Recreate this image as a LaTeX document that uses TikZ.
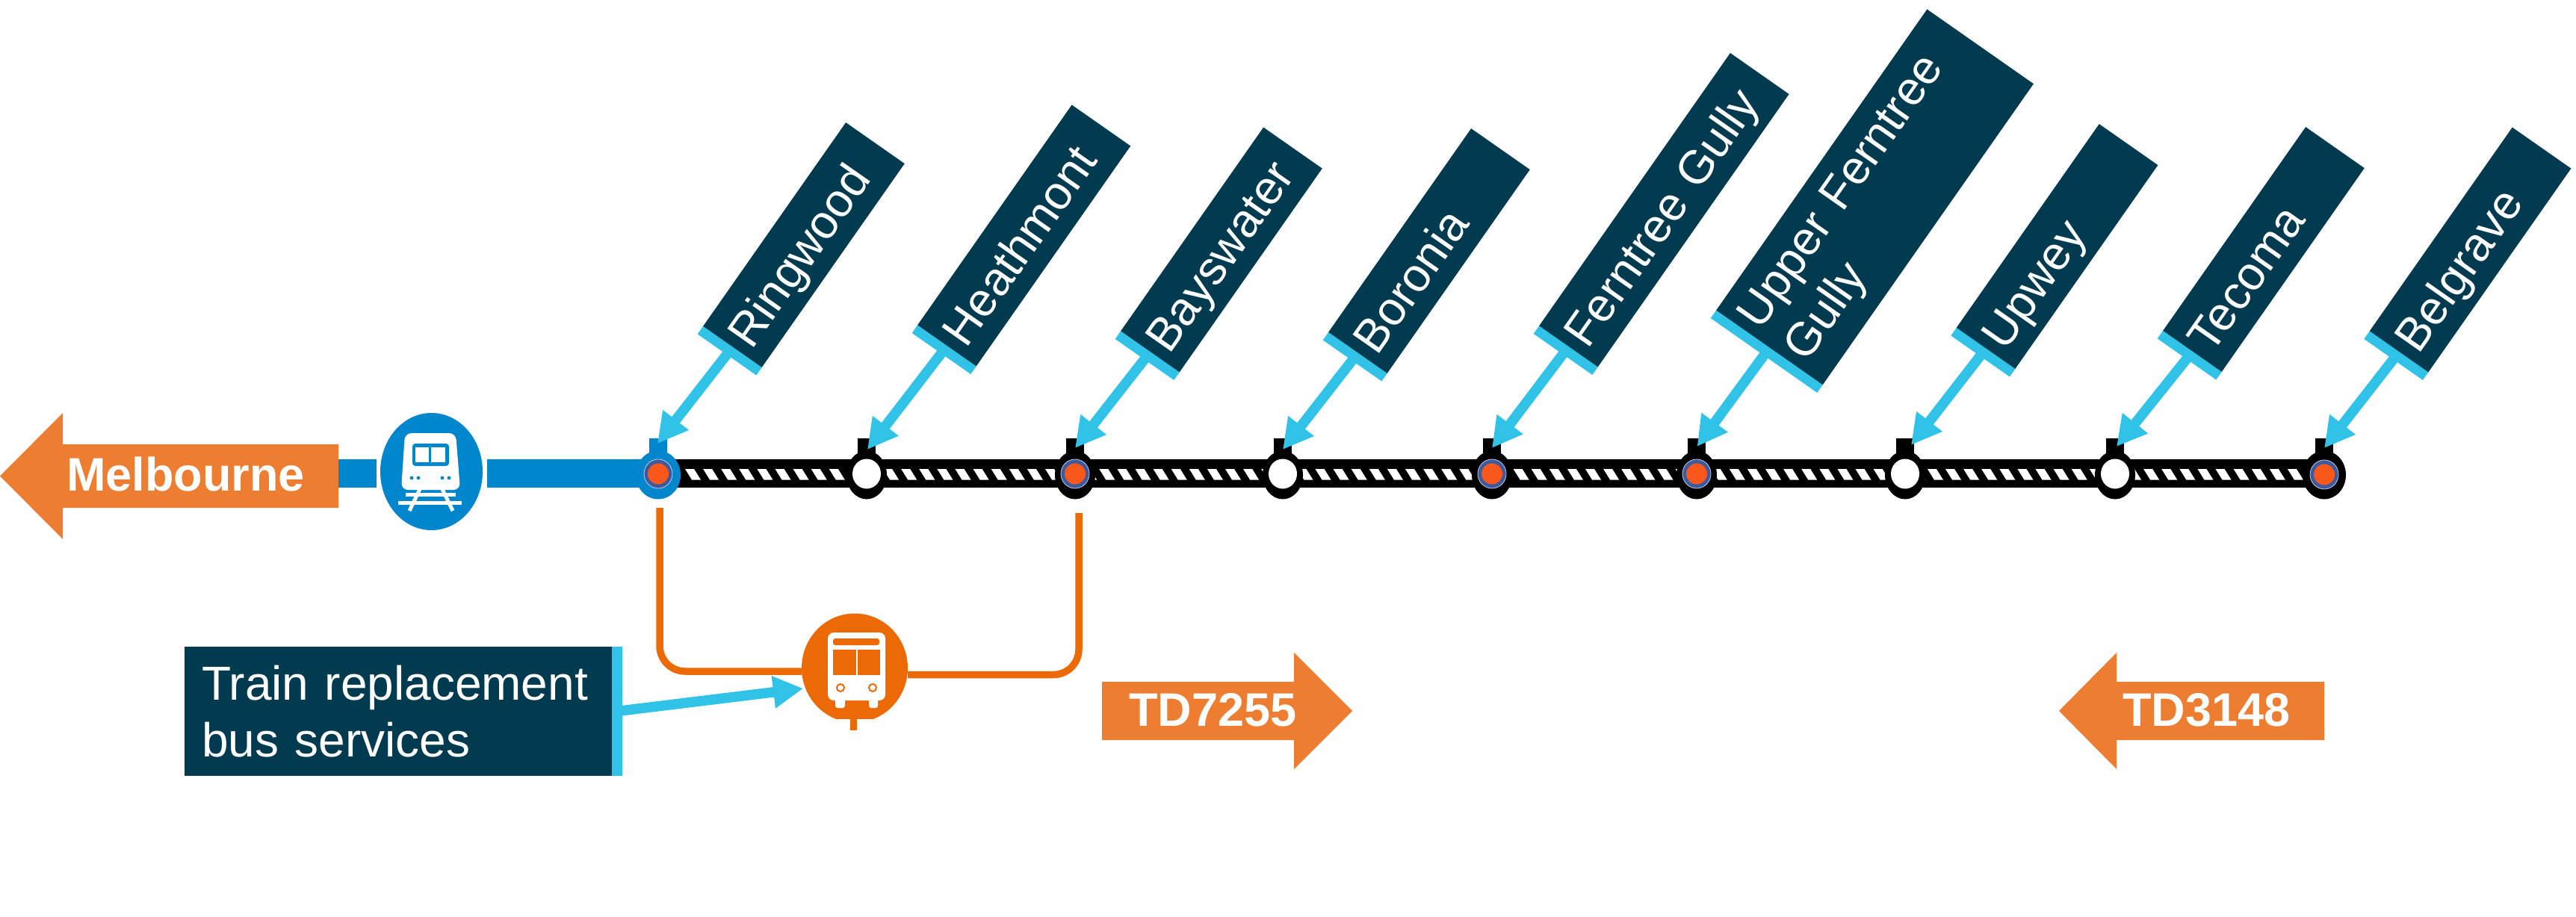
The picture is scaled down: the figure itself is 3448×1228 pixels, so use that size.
\documentclass[tikz,border=0pt]{standalone}
\usepackage{fontspec}
\setmainfont{Liberation Sans}
\usetikzlibrary{arrows.meta,shapes.geometric,calc}
\definecolor{tealbox}{HTML}{023B50}
\definecolor{cyanline}{HTML}{30C2E7}
\definecolor{metroblue}{HTML}{0086CC}
\definecolor{busorange}{HTML}{EC6A05}
\definecolor{arroworange}{HTML}{ED7D31}
\definecolor{ringblue}{HTML}{3D5A9E}
\definecolor{stopred}{HTML}{F9581A}
\tikzset{
  lblband/.style={rectangle,fill=cyanline,rotate=55,inner sep=0pt,outer sep=0pt,minimum width=13pt},
  lblbox/.style={rectangle,fill=tealbox,text=white,rotate=55,inner xsep=11pt,inner ysep=0pt,outer sep=0pt,align=left,
    font=\fontsize{63}{76}\selectfont},
  oneline/.style={text height=49pt,text depth=0pt},
  pointer/.style={draw=cyanline,line width=13.5pt,-{Triangle[length=40pt,width=41pt]}},
  outerstop/.style={ellipse,inner sep=0pt,outer sep=0pt,minimum height=65pt},
  innerstop/.style={ellipse,fill=white,inner sep=0pt,minimum width=38pt,minimum height=40pt},
  ringstop/.style={ellipse,fill=ringblue,draw=white!70!ringblue,line width=0.8pt,inner sep=0pt,minimum width=38pt,minimum height=39pt},
  corestop/.style={ellipse,fill=stopred,inner sep=0pt,minimum width=28pt,minimum height=28pt},
  busline/.style={draw=busorange,line width=9.5pt,rounded corners=34pt},
  boldtext/.style={text=white,inner sep=0pt,font=\fontsize{63}{70}\bfseries\selectfont,anchor=base west},
}
\newcommand{\stnlabel}[6]{%
  \node[lblband,anchor=west,minimum height=#4pt] (b#1) at (#2) {};
  \node[lblbox,#6,anchor=west,minimum height=#4pt,minimum width=#3pt-13pt,text width=#3pt-35pt] (l#1) at (b#1.east) {#5};
}
\newcommand{\stnstop}[4]{% id, x, colour, width
  \fill[#3] (#2-12,587) rectangle (#2+12,610);
  \node[outerstop,fill=#3,minimum width=#4pt] (s#1) at (#2,636) {};
}
\begin{document}
\begin{tikzpicture}[x=1pt,y=-1pt]
\useasboundingbox (0,0) rectangle (3448,1228);

% main line
\coordinate (m) at (453,634);
\coordinate (s1c) at (881,634);
\coordinate (s9c) at (3111,634);
\draw[black,line width=38pt] (s1c) -- (s9c);
\foreach \k in {0,...,90} {
  \pgfmathsetmacro{\xx}{917+24.1*\k}
  \fill[white] (\xx,628) -- (\xx+12,628) -- (\xx+21,642.5) -- (\xx+9,642.5) -- cycle;
}

% Train icon and blue line
\node[ellipse,fill=metroblue,inner sep=0pt,outer sep=5.5pt,minimum width=137pt,minimum height=157pt] (train) at (577.5,631.5) {};
\draw[metroblue,line width=38pt] (m) -- (m -| train.west);
\draw[metroblue,line width=38pt] (m -| train.east) -- (s1c);
\fill[white,rounded corners=9pt] (542,580) -- (610,580) -- (616,656) -- (537,656) -- cycle;
\fill[metroblue,rounded corners=4pt] (552,594) rectangle (601,624);
\fill[white] (556,599) rectangle (574,619);
\fill[white] (577,599) rectangle (596,619);
\foreach \dx in {551,560,592,601} \fill[metroblue] (\dx,640) circle (2.4pt);
\draw[white,line width=5pt] (562,655) -- (548,684);
\draw[white,line width=5pt] (592,655) -- (606,684);
\draw[white,line width=5pt] (543,662.5) -- (610,662.5);
\draw[white,line width=5pt] (533,673.5) -- (618,673.5);

% Stations
\stnstop{1}{881}{metroblue}{60}
\stnstop{2}{1160}{black}{54}
\stnstop{3}{1439}{black}{54}
\stnstop{4}{1717}{black}{54}
\stnstop{5}{1997}{black}{54}
\stnstop{6}{2271}{black}{54}
\stnstop{7}{2550}{black}{54}
\stnstop{8}{2831}{black}{54}
\stnstop{9}{3111}{black}{58}
\node[ringstop] (i1) at (881,634.5) {}; \node[corestop] (c1) at (i1) {};
\node[innerstop] (i2) at (1160,634.5) {};
\node[ringstop] (i3) at (1439,634.5) {}; \node[corestop] (c3) at (i3) {};
\node[innerstop] (i4) at (1717,634.5) {};
\node[ringstop] (i5) at (1997,634.5) {}; \node[corestop] (c5) at (i5) {};
\node[ringstop] (i6) at (2271,634.5) {}; \node[corestop] (c6) at (i6) {};
\node[innerstop] (i7) at (2550,634.5) {};
\node[innerstop] (i8) at (2831,634.5) {};
\node[ringstop] (i9) at (3111,635.5) {}; \node[corestop] (c9) at (i9) {};

% Melbourne arrow
\fill[arroworange] (0,637.5) -- (84,553) -- (84,595) -- (453,595) -- (453,680) -- (84,680) -- (84,722) -- cycle;
\node[boldtext] (melb) at (89,657) {Melbourne};

% Station labels
\stnlabel{R}{973,475}{346}{96}{Ringwood}{oneline}
\stnlabel{H}{1260,473.5}{373}{96}{Heathmont}{oneline}
\stnlabel{Ba}{1532,481.5}{346}{96}{Bayswater}{oneline}
\stnlabel{Bo}{1810,483}{346}{96}{Boronia}{oneline}
\stnlabel{F}{2092,474.5}{459}{96}{Ferntree Gully}{oneline}
\stnlabel{U}{2361,476}{505}{174}{Upper Ferntree\\Gully}{}
\stnlabel{Up}{2650.6,477}{346}{96}{Upwey}{oneline}
\stnlabel{T}{2927,481}{346}{96}{Tecoma}{oneline}
\stnlabel{Be}{3203.6,481.5}{346}{96}{Belgrave}{oneline}

% Pointer arrows
\coordinate (tR) at (880,594);
\coordinate (tH) at (1161,602);
\coordinate (tBa) at (1439,600);
\coordinate (tBo) at (1717,602);
\coordinate (tF) at (1997,600);
\coordinate (tU) at (2271.5,598);
\coordinate (tUp) at (2558,596);
\coordinate (tT) at (2833,598);
\coordinate (tBe) at (3111,600);
\foreach \n in {R,H,Ba,Bo,F,U,Up,T,Be} \draw[pointer] (b\n.center) -- (t\n);

% Bus icon
\node[ellipse,fill=busorange,inner sep=0pt,outer sep=0pt,minimum width=142pt,minimum height=146pt] (bus) at (1144,894.5) {};
\fill[white] (1120,963) rectangle (1138,975);
\fill[white] (1147,963) rectangle (1170,975);
\fill[busorange] (1138,960) rectangle (1147,978);
\fill[white,rounded corners=8pt] (1108,847) rectangle (1185,938);
\fill[white,rounded corners=3pt] (1118,930) rectangle (1131,948);
\fill[white,rounded corners=3pt] (1163,930) rectangle (1175,948);
\fill[busorange,rounded corners=3pt] (1115,855) rectangle (1177,864);
\fill[busorange] (1115,870) rectangle (1146,904);
\fill[busorange] (1148,870) rectangle (1178,904);
\draw[busorange,line width=2pt,fill=white] (1125,921) circle (5pt);
\draw[busorange,line width=2pt,fill=white] (1168,921) circle (5pt);

% Replacement line
\coordinate (o1) at (883,680);
\coordinate (o1b) at (883,899);
\coordinate (o2) at (1444,687);
\coordinate (o2b) at (1444,903.5);
\draw[busline] (o1) -- (o1b) -- (o1b -| bus.west);
\draw[busline] (o2) -- (o2b) -- (o2b -| bus.east);

% Replacement bus label
\node[rectangle,fill=tealbox,text=white,anchor=north west,inner xsep=23pt,inner ysep=0pt,outer sep=0pt,
  minimum width=572pt,minimum height=173pt,text width=526pt,align=left,font=\fontsize{64}{76}\selectfont] (rb) at (247,866)
  {Train replacement\\bus services};
\node[rectangle,fill=cyanline,anchor=north west,inner sep=0pt,outer sep=0pt,minimum width=14pt,minimum height=173pt] (rbb) at (rb.north east) {};
\coordinate (tbus) at (1075,922);
\draw[pointer] (rbb.center) -- (tbus);

% Direction arrows
\fill[arroworange] (1475,913) -- (1732,913) -- (1732,874) -- (1810,952) -- (1732,1030) -- (1732,991) -- (1475,991) -- cycle;
\node[boldtext] (td1) at (1511,972) {TD7255};
\fill[arroworange] (3111,913) -- (2833,913) -- (2833,874) -- (2756,952) -- (2833,1030) -- (2833,991) -- (3111,991) -- cycle;
\node[boldtext] (td2) at (2841,972) {TD3148};
\end{tikzpicture}
\end{document}
